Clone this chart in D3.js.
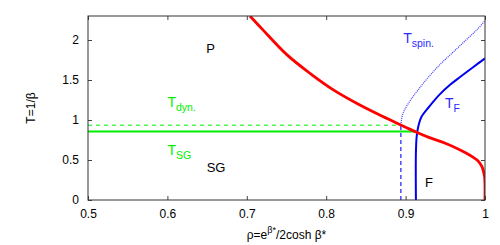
<!DOCTYPE html>
<html>
<head>
<meta charset="utf-8">
<script src="https://cdn.jsdelivr.net/npm/d3@7"></script>
<style>
  body { margin: 0; background: #fff; }
  text { font-family: "Liberation Sans", Arial, sans-serif; }
</style>
</head>
<body>
<div id="chart"></div>
<script>
var w = 500;
var h = 245;

// tick values
var xTicks = [0.5, 0.6, 0.7, 0.8, 0.9, 1];
var yTicks = [0, 0.5, 1, 1.5, 2];

// curves, [rho, T]
var redCurve = [[0.704, 2.30], [0.72, 2.13], [0.75, 1.82], [0.78, 1.58], [0.81, 1.37],
    [0.84, 1.20], [0.87, 1.05], [0.90, 0.91], [0.913, 0.85], [0.93, 0.78], [0.95, 0.71],
    [0.97, 0.62], [0.981, 0.56], [0.991, 0.49], [0.996, 0.42], [0.998, 0.36],
    [0.9995, 0.29], [1.0, 0.2], [1.0, 0]];
var tF = [[0.913, 0], [0.913, 0.6], [0.914, 0.8], [0.916, 0.92], [0.920, 1.04], [0.93, 1.17],
    [0.943, 1.32], [0.956, 1.44], [0.969, 1.54], [0.985, 1.66], [1.0, 1.77]];
var tSpinDashed = [[0.894, 0], [0.894, 0.94]];
var tSpin = [[0.894, 0.94], [0.896, 1.06], [0.900, 1.15], [0.907, 1.26], [0.916, 1.38],
    [0.93, 1.55], [0.945, 1.71], [0.96, 1.85], [0.975, 1.99], [0.99, 2.13], [1.0, 2.24]];
var tSG = [[0.5, 0.855], [0.913, 0.855]];
var tDyn = [[0.5, 0.935], [0.894, 0.935]];

var margin = {top: 16, right: 15, bottom: 45, left: 88},
    width = w - margin.left - margin.right,
    height = h - margin.top - margin.bottom;

var x = d3.scaleLinear().domain([0.5, 1]).range([0, width]);
var y = d3.scaleLinear().domain([0, 2.3]).range([height, 0]);

var svg = d3.select("#chart")
    .append("svg")
    .attr("width", w)
    .attr("height", h)
    .append("g")
    .attr("transform", "translate(" + margin.left + "," + margin.top + ")");

svg.append("clipPath").attr("id", "clip")
    .append("rect").attr("width", width).attr("height", height);

var fmt = function(d) { return d === 1 || d === 2 || d === 0 ? String(d) : d.toFixed(1); };

// axes, ticks pointing inward like gnuplot
var xAxis = svg.append("g")
    .attr("transform", "translate(0," + height + ")")
    .call(d3.axisBottom(x).tickValues(xTicks).tickSize(-4).tickPadding(9).tickFormat(fmt));
var xTop = svg.append("g")
    .call(d3.axisTop(x).tickValues(xTicks).tickSize(-4).tickFormat(""));
var yAxis = svg.append("g")
    .call(d3.axisLeft(y).tickValues(yTicks).tickSize(-4).tickPadding(9).tickFormat(fmt));
var yRight = svg.append("g")
    .attr("transform", "translate(" + width + ",0)")
    .call(d3.axisRight(y).tickValues(yTicks).tickSize(-4).tickFormat(""));

[xAxis, xTop, yAxis, yRight].forEach(function(a) {
    a.select(".domain").remove();
    a.selectAll("line").attr("stroke", "#444");
    a.selectAll("text").attr("font-size", 12).attr("fill", "#000")
        .style("font-family", "'Liberation Sans', Arial, sans-serif");
});

var lineX = d3.line()
    .x(function(d) { return x(d[0]); })
    .y(function(d) { return y(d[1]); });
var smooth = d3.line()
    .x(function(d) { return x(d[0]); })
    .y(function(d) { return y(d[1]); })
    .curve(d3.curveCatmullRom);

var curves = svg.append("g").attr("clip-path", "url(#clip)");

curves.append("path").datum(tDyn).attr("d", lineX)
    .attr("fill", "none").attr("stroke", "#00ee00").attr("stroke-width", 1)
    .attr("stroke-dasharray", "4,4");
curves.append("path").datum(tSG).attr("d", lineX)
    .attr("fill", "none").attr("stroke", "#00ee00").attr("stroke-width", 2);
curves.append("path").datum(tSpinDashed).attr("d", lineX)
    .attr("fill", "none").attr("stroke", "#4a4aff").attr("stroke-width", 1.5)
    .attr("stroke-dasharray", "4,3");
curves.append("path").datum(tSpin).attr("d", smooth)
    .attr("fill", "none").attr("stroke", "#3a3aff").attr("stroke-width", 1.2)
    .attr("stroke-dasharray", "1,1");
curves.append("path").datum(tF).attr("d", smooth)
    .attr("fill", "none").attr("stroke", "#0000ee").attr("stroke-width", 2);
curves.append("path").datum(redCurve).attr("d", smooth)
    .attr("fill", "none").attr("stroke", "#ff0000").attr("stroke-width", 2.8);

// frame
svg.append("rect").attr("width", width).attr("height", height)
    .attr("fill", "none").attr("stroke", "#333").attr("stroke-width", 1);

// region labels
function label(txt, rx, ty, color) {
    return svg.append("text").attr("x", x(rx)).attr("y", y(ty))
        .attr("font-size", 13).attr("fill", color).text(txt);
}
label("P", 0.649, 1.84, "#000");
label("SG", 0.6495, 0.35, "#000");
label("F", 0.9245, 0.16, "#000");

function subLabel(main, sub, rx, ty, color) {
    var t = svg.append("text").attr("x", x(rx)).attr("y", y(ty))
        .attr("font-size", 14).attr("fill", color);
    t.append("tspan").text(main);
    t.append("tspan").attr("dy", 4).attr("font-size", 10.5).text(sub);
}
subLabel("T", "dyn.", 0.6, 1.16, "#00ee00");
subLabel("T", "SG", 0.6, 0.56, "#00ee00");
subLabel("T", "spin.", 0.897, 1.96, "#2a2aff");
subLabel("T", "F", 0.9495, 1.15, "#2a2aff");

// axis titles
var xt = svg.append("text").attr("x", width / 2).attr("y", height + 39)
    .attr("text-anchor", "middle").attr("font-size", 12);
xt.append("tspan").text("ρ=e");
xt.append("tspan").attr("dy", -6).attr("font-size", 9).text("β*");
xt.append("tspan").attr("dy", 6).text("/2cosh β*");

svg.append("text")
    .attr("transform", "translate(" + (-53) + "," + (y(1.15)) + ") rotate(-90)")
    .attr("text-anchor", "middle").attr("font-size", 12).text("T=1/β");
</script>
</body>
</html>
